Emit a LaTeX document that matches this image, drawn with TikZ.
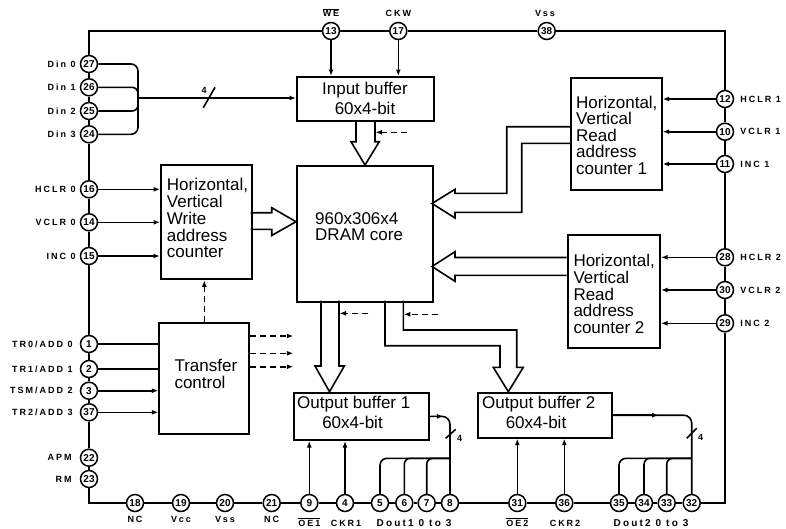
\documentclass[tikz,border=0pt]{standalone}
\usepackage{fontspec}
\setmainfont{Liberation Sans}
\newfontfamily\pinf{Liberation Sans}[LetterSpace=22]
\usetikzlibrary{arrows.meta,calc}
\newcommand{\ovl}[1]{\ensuremath{\overline{\mbox{#1}}}}
\begin{document}
\begin{tikzpicture}[x=1pt,y=-1pt,
  pin/.style={circle, draw, line width=1.5pt, fill=white, minimum size=17pt, inner sep=0pt, font=\bfseries\fontsize{10}{10}\selectfont},
  box/.style={draw, line width=2pt, anchor=north west, inner sep=0pt},
  txt/.style={font=\fontsize{17}{17}\selectfont, inner sep=0pt, anchor=base west},
  lbl/.style={font=\pinf\bfseries\fontsize{9}{9}\selectfont, inner sep=0pt},
  dlbl/.style={font=\pinf\bfseries\fontsize{10}{10}\selectfont, inner sep=0pt},
  frame/.style={line width=2pt},
  conn/.style={line width=1.6pt},
  arr/.style={conn, -{Latex[length=6.5pt,width=5pt]}},
  darr/.style={arr, dash pattern=on 6pt off 4pt},
  blk/.style={line width=1.6pt, line join=miter}
]
\useasboundingbox (0,0) rectangle (786,528);

% ---------- boxes ----------
\node[box, minimum width=137.3pt, minimum height=44pt] (ib) at (296,76) {};
\node[box, minimum width=136pt, minimum height=135.7pt] (dram) at (296,165) {};
\node[box, minimum width=90.7pt, minimum height=114pt] (wc) at (160,164.3) {};
\node[box, minimum width=90pt, minimum height=111pt] (tc) at (158.3,322.3) {};
\node[box, minimum width=90.7pt, minimum height=112pt] (rc1) at (570,77.3) {};
\node[box, minimum width=92.3pt, minimum height=112.7pt] (rc2) at (566.7,234) {};
\node[box, minimum width=135.6pt, minimum height=47.3pt] (ob1) at (292.7,391.7) {};
\node[box, minimum width=134pt, minimum height=45pt] (ob2) at (476.7,391.7) {};

% ---------- box texts ----------
\node[txt, anchor=base] at (365,94) {Input buffer};
\node[txt, anchor=base] at (365,114) {60x4-bit};
\node[txt] at (315,224) {960x306x4};
\node[txt] at (315,240.5) {DRAM core};
\node[txt] at (166.7,190.7) {Horizontal,};
\node[txt] at (166.7,207.5) {Vertical};
\node[txt] at (166.7,224.3) {Write};
\node[txt] at (166.7,241) {address};
\node[txt] at (166.7,257.8) {counter};
\node[txt] at (174.3,371.7) {Transfer};
\node[txt] at (174.3,388.3) {control};
\node[txt] at (576,108.3) {Horizontal,};
\node[txt] at (576,124.7) {Vertical};
\node[txt] at (576,141) {Read};
\node[txt] at (576,157.5) {address};
\node[txt] at (576,174) {counter 1};
\node[txt] at (573.3,266.7) {Horizontal,};
\node[txt] at (573.3,283.3) {Vertical};
\node[txt] at (573.3,300) {Read};
\node[txt] at (573.3,316.7) {address};
\node[txt] at (573.3,333.3) {counter 2};
\node[txt] at (297,408.3) {Output buffer 1};
\node[txt, anchor=base] at (352.5,428.3) {60x4-bit};
\node[txt] at (482,408.3) {Output buffer 2};
\node[txt, anchor=base] at (536,428.3) {60x4-bit};

% ---------- pins ----------
\foreach \n/\yy in {27/64,26/87.3,25/111,24/134.3,16/189.3,14/222.3,15/256,1/344,2/369,3/390.7,37/412.3,22/457.7,23/479}
  \node[pin] (c\n) at (89,\yy) {\n};
\foreach \n/\xx in {13/331,17/398.3,38/546.7}
  \node[pin] (c\n) at (\xx,31) {\n};
\foreach \n/\yy in {12/99,10/131.7,11/164,28/257.3,30/290,29/323.3}
  \node[pin] (c\n) at (725,\yy) {\n};
\foreach \n/\xx in {18/135,19/181,20/225,21/271.7,9/309.3,4/345,5/380,6/404.3,7/426.7,8/450,31/517.3,36/564.3,35/619,34/644,33/666.7,32/691.7}
  \node[pin] (c\n) at (\xx,503) {\n};

% ---------- frame ----------
\draw[frame] (c27) |- (c13);
\draw[frame] (c13) -- (c17) -- (c38);
\draw[frame] (c38) -| (c12);
\draw[frame] (c12) -- (c10) -- (c11) -- (c28) -- (c30) -- (c29);
\draw[frame] (c29) |- (c32);
\draw[frame] (c32) -- (c33) -- (c34) -- (c35) -- (c36) -- (c31) -- (c8) -- (c7) -- (c6) -- (c5) -- (c4) -- (c9) -- (c21) -- (c20) -- (c19) -- (c18);
\draw[frame] (c18) -| (c23);
\draw[frame] (c23) -- (c22) -- (c37) -- (c3) -- (c2) -- (c1) -- (c15) -- (c14) -- (c16) -- (c24) -- (c25) -- (c26) -- (c27);

% ---------- pin labels ----------
\node[lbl, left=4pt] at (c27.west) {Din 0};
\node[lbl, left=4pt] at (c26.west) {Din 1};
\node[lbl, left=4pt] at (c25.west) {Din 2};
\node[lbl, left=4pt] at (c24.west) {Din 3};
\node[lbl, left=4pt] at (c16.west) {HCLR 0};
\node[lbl, left=4pt] at (c14.west) {VCLR 0};
\node[lbl, left=4pt] at (c15.west) {INC 0};
\node[lbl, left=7pt] at (c1.west) {TR0/ADD 0};
\node[lbl, left=7pt] at (c2.west) {TR1/ADD 1};
\node[lbl, left=7pt] at (c3.west) {TSM/ADD 2};
\node[lbl, left=7pt] at (c37.west) {TR2/ADD 3};
\node[lbl, left=8pt] at (c22.west) {APM};
\node[lbl, left=8pt] at (c23.west) {RM};
\node[lbl, right=6pt] at (c12.east) {HCLR 1};
\node[lbl, right=6pt] at (c10.east) {VCLR 1};
\node[lbl, right=6pt] at (c11.east) {INC 1};
\node[lbl, right=6pt] at (c28.east) {HCLR 2};
\node[lbl, right=6pt] at (c30.east) {VCLR 2};
\node[lbl, right=6pt] at (c29.east) {INC 2};
\node[lbl, anchor=base] at (331,16.5) {\ovl{WE}};
\node[lbl, anchor=base] at (398.3,16.5) {CKW};
\node[lbl, anchor=base] at (545,16.5) {Vss};
\node[lbl, anchor=base] at (135,522.5) {NC};
\node[lbl, anchor=base] at (181,522.5) {Vcc};
\node[lbl, anchor=base] at (225,522.5) {Vss};
\node[lbl, anchor=base] at (271.7,522.5) {NC};
\node[lbl, anchor=base] at (309.3,526) {\ovl{OE1}};
\node[lbl, anchor=base] at (346,526) {CKR1};
\node[dlbl, anchor=base] at (414,526.5) {Dout1 0 to 3};
\node[lbl, anchor=base] at (517.3,526) {\ovl{OE2}};
\node[lbl, anchor=base] at (565,526) {CKR2};
\node[dlbl, anchor=base] at (651,526.5) {Dout2 0 to 3};

% ---------- connectors ----------
\coordinate (dinbus) at (138,98);
\draw[conn, rounded corners=7pt] (c27.east) -| (dinbus);
\draw[conn, rounded corners=6pt] (c26.east) -| (dinbus);
\draw[conn, rounded corners=6pt] (c25.east) -| (dinbus);
\draw[conn, rounded corners=7pt] (c24.east) -| (dinbus);
\draw[arr] (dinbus) -- (ib.west |- dinbus);
\draw[conn] (203.3,107.7) -- (215,87.3);
\node[lbl] at (204.2,90) {4};

\draw[arr] (c13) -- (c13 |- ib.north);
\draw[arr] (c17) -- (c17 |- ib.north);

\draw[arr] (c16) -- (wc.west |- c16);
\draw[arr] (c14) -- (wc.west |- c14);
\draw[arr] (c15) -- (wc.west |- c15);

\draw[arr] (c12) -- (rc1.east |- c12);
\draw[arr] (c10) -- (rc1.east |- c10);
\draw[arr] (c11) -- (rc1.east |- c11);
\draw[arr] (c28) -- (rc2.east |- c28);
\draw[arr] (c30) -- (rc2.east |- c30);
\draw[arr] (c29) -- (rc2.east |- c29);

\draw[conn] (c1) -- (tc.west |- c1);
\draw[conn] (c2) -- (tc.west |- c2);
\draw[arr] (c3) -- (tc.west |- c3);
\draw[arr] (c37) -- (tc.west |- c37);

\draw[arr] (c9) -- (c9 |- ob1.south);
\draw[arr] (c4) -- (c4 |- ob1.south);
\draw[arr] (c31) -- (c31 |- ob2.south);
\draw[arr] (c36) -- (c36 |- ob2.south);

% output data buses
\draw[conn, rounded corners=8pt] (ob1.east) -| (c8.north);
\draw[arr] (ob1.east) -- ++(13,0);
\coordinate (br1) at (450,458.3);
\draw[conn, rounded corners=7pt] (br1) -| (c5.north);
\draw[conn, rounded corners=6pt] (br1) -| (c6.north);
\draw[conn, rounded corners=6pt] (br1) -| (c7.north);
\draw[conn] (445.7,438.3) -- (455.7,429.3);
\node[lbl] at (459.5,438) {4};

\draw[conn, rounded corners=8pt] (ob2.east) -| (c32.north);
\draw[arr] (ob2.east) -- ++(46,0);
\coordinate (br2) at (691.7,458.3);
\draw[conn, rounded corners=7pt] (br2) -| (c35.north);
\draw[conn, rounded corners=6pt] (br2) -| (c34.north);
\draw[conn, rounded corners=6pt] (br2) -| (c33.north);
\draw[conn] (686.7,438.3) -- (696.7,428.3);
\node[lbl] at (700.5,437.5) {4};

% ---------- block arrows ----------
\draw[blk] (356,120) -- (356,141.7) -- (351,141.7) -- (365,165) -- (379.3,141.7) -- (375,141.7) -- (375,120);
\draw[blk] (250.7,212.7) -- (271.7,212.7) -- (271.7,207.7) -- (296,221.7) -- (271.7,235.5) -- (271.7,229.3) -- (250.7,229.3);
\draw[blk] (570,126.7) -- (506.7,126.7) -- (506.7,193.3) -- (455,193.3) -- (455,189.3) -- (432,203.5) -- (455,218) -- (455,212.3) -- (521.7,212.3) -- (521.7,143.3) -- (570,143.3);
\draw[blk] (566.7,257.5) -- (455,257.5) -- (455,251.7) -- (432,266.5) -- (455,281.3) -- (455,275.3) -- (566.7,275.3);
\draw[blk] (321,300.7) -- (321,366) -- (315,366) -- (329.5,391.7) -- (344.3,366) -- (339,366) -- (339,300.7);
\draw[blk] (385,300.7) -- (385,345.7) -- (500,345.7) -- (500,367.3) -- (493.3,367.3) -- (508.3,391.7) -- (523.3,367.3) -- (516.7,367.3) -- (516.7,330) -- (403.3,330) -- (403.3,300.7);

% ---------- dashed control arrows ----------
\coordinate (dib) at (406.7,132.3);
\draw[darr] (dib) -- (375.5,132.3);
\coordinate (do1) at (368.3,313.3);
\draw[darr] (do1) -- (339.5,313.3);
\coordinate (do2) at (438.3,314.3);
\draw[darr] (do2) -- (403.8,314.3);
\draw[darr] (tc.north) -- (tc.north |- wc.south);
\coordinate (t1) at (293.3,336);
\coordinate (t2) at (293.3,353.3);
\coordinate (t3) at (293.3,366.7);
\draw[darr] (tc.east |- t1) -- (t1);
\draw[darr] (tc.east |- t2) -- (t2);
\draw[darr] (tc.east |- t3) -- (t3);
\end{tikzpicture}
\end{document}
